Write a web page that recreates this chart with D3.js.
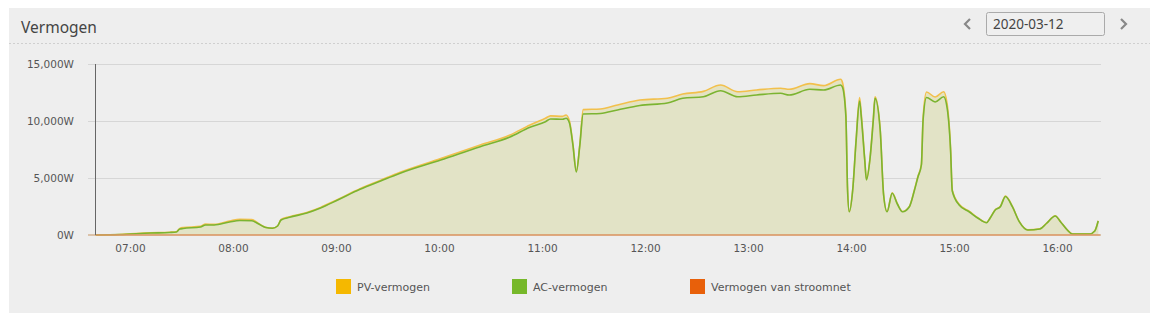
<!DOCTYPE html>
<html>
<head>
<meta charset="utf-8">
<script src="https://cdn.jsdelivr.net/npm/d3@7"></script>
<style>
  body { margin: 0; background: #fff; }
  svg { display: block; }
</style>
</head>
<body>
<svg id="chart" width="1158" height="317"></svg>
<script>
// tijdstippen (HH:MM) van de metingen
const times = ["06:40","06:54","07:12","07:23","07:27","07:29","07:31","07:41","07:44","07:49",
  "07:58","08:04","08:11","08:15","08:19","08:23","08:26","08:28","08:33","08:43",
  "08:51","09:01","09:14","09:26","09:37","10:01","10:24","10:41","10:53","11:02",
  "11:05","11:12","11:14","11:16","11:18","11:20","11:22","11:24","11:34","11:44",
  "11:57","12:13","12:22","12:34","12:44","12:54","13:05","13:19","13:24","13:36",
  "13:44","13:54","13:55","13:57","13:58","13:59","14:01","14:03","14:05","14:06",
  "14:08","14:09","14:11","14:13","14:14","14:17","14:19","14:21","14:24","14:27",
  "14:30","14:34","14:37","14:39","14:41","14:42","14:44","14:49","14:54","14:56",
  "14:58","14:59","15:03","15:09","15:14","15:19","15:21","15:24","15:27","15:30",
  "15:34","15:38","15:43","15:50","15:54","15:59","16:02","16:06","16:09","16:19",
  "16:22","16:24"];

// PV-vermogen (W)
const pvPower = [0,50,190,240,280,580,650,760,950,930,
  1220,1380,1350,1000,680,600,810,1360,1600,1980,
  2420,3120,4060,4800,5480,6700,7900,8750,9650,10240,
  10450,10410,10530,10000,8000,5600,7900,11000,11050,11400,
  11840,12000,12370,12600,13160,12570,12720,12870,12780,13280,
  13100,13660,13400,10600,4000,2060,4000,8450,12050,10600,
  6650,4870,6650,10250,12130,9300,3550,2060,3700,2750,
  2060,2500,4000,5150,6200,10300,12550,12100,12570,11500,
  7600,3950,2700,2070,1500,1100,1490,2220,2520,3420,
  2510,1190,450,540,1045,1690,1190,450,95,95,
  360,1250];

// AC-vermogen (W)
const acPower = [0,40,170,220,260,520,570,700,880,880,
  1140,1270,1250,960,660,590,790,1320,1550,1930,
  2370,3070,4010,4740,5400,6580,7750,8570,9450,9940,
  10180,10150,10240,9830,7900,5530,7810,10610,10660,10970,
  11360,11580,11990,12130,12660,12130,12280,12430,12280,12780,
  12720,13160,12980,10440,3950,2040,3950,8330,11750,10350,
  6580,4830,6580,10090,11990,9210,3510,2040,3660,2720,
  2040,2480,3950,5090,6140,10090,12060,11670,12130,11140,
  7460,3860,2630,2020,1470,1080,1470,2190,2480,3380,
  2480,1170,440,530,1030,1670,1170,440,90,90,
  350,1230];

// Vermogen van stroomnet (W)
const gridTimes = ["06:40","16:25"];
const gridPower = [0, 0];

const yTicks = [0, 5000, 10000, 15000];
const xTicks = ["07:00","08:00","09:00","10:00","11:00","12:00","13:00","14:00","15:00","16:00"];
const legendItems = ["PV-vermogen", "AC-vermogen", "Vermogen van stroomnet"];
const legendColors = ["#f5b800", "#76b82a", "#e8600a"];

const parseTime = d3.timeParse("%H:%M");

const svg = d3.select("#chart");
const font = "'DejaVu Sans', Verdana, sans-serif";

// paneel
svg.append("rect")
  .attr("x", 9).attr("y", 8)
  .attr("width", 1141).attr("height", 305)
  .attr("fill", "#eeeeee");

svg.append("text")
  .attr("x", 21).attr("y", 33)
  .attr("font-family", "'Noto Sans', 'Open Sans', sans-serif")
  .attr("font-size", 15.5)
  .attr("fill", "#444")
  .text("Vermogen");

svg.append("line")
  .attr("x1", 9).attr("x2", 1150)
  .attr("y1", 43.5).attr("y2", 43.5)
  .attr("stroke", "#cfcfcf")
  .attr("stroke-dasharray", "2,2");

// datum-kiezer
svg.append("rect")
  .attr("x", 986.5).attr("y", 12.5)
  .attr("width", 118).attr("height", 23)
  .attr("rx", 2)
  .attr("fill", "#efefef")
  .attr("stroke", "#aaa");

svg.append("text")
  .attr("x", 993).attr("y", 29)
  .attr("font-family", "'Noto Sans', 'Open Sans', sans-serif")
  .attr("font-size", 13.5)
  .attr("fill", "#444")
  .text("2020-03-12");

svg.append("path")
  .attr("d", "M970,19 L965,24 L970,29")
  .attr("fill", "none").attr("stroke", "#888").attr("stroke-width", 2.2);
svg.append("path")
  .attr("d", "M1121,19 L1126,24 L1121,29")
  .attr("fill", "none").attr("stroke", "#888").attr("stroke-width", 2.2);

// schalen: 07:00 -> 130, 16:00 -> 1057 (103 px per uur)
const x = d3.scaleTime()
  .domain([new Date(parseTime("07:00").getTime() - 35 / 103 * 3600000),
           new Date(parseTime("16:00").getTime() + 43 / 103 * 3600000)])
  .range([95, 1100]);

const y = d3.scaleLinear()
  .domain([0, 15000])
  .range([235, 64]);

// rasterlijnen
svg.append("g")
  .selectAll("line")
  .data(yTicks.filter(d => d > 0))
  .join("line")
  .attr("x1", 88).attr("x2", 1101)
  .attr("y1", d => Math.round(y(d)) + 0.5)
  .attr("y2", d => Math.round(y(d)) + 0.5)
  .attr("stroke", "#d6d6d6");

const pvData = times.map((t, i) => ({ t: parseTime(t), v: pvPower[i] }));
const acData = times.map((t, i) => ({ t: parseTime(t), v: acPower[i] }));
const gridData = gridTimes.map((t, i) => ({ t: parseTime(t), v: gridPower[i] }));

const area = d3.area()
  .x(d => x(d.t))
  .y0(y(0))
  .y1(d => y(d.v))
  .curve(d3.curveMonotoneX);

const line = d3.line()
  .x(d => x(d.t))
  .y(d => y(d.v))
  .curve(d3.curveMonotoneX);

svg.append("path")
  .datum(pvData)
  .attr("d", area)
  .attr("fill", "#e4e3c2");

svg.append("path")
  .datum(acData)
  .attr("d", area)
  .attr("fill", "#e2e3c6");

svg.append("path")
  .datum(pvData)
  .attr("d", line)
  .attr("fill", "none")
  .attr("stroke", "#f2c04c")
  .attr("stroke-width", 1.6);

svg.append("path")
  .datum(acData)
  .attr("d", line)
  .attr("fill", "none")
  .attr("stroke", "#7bb431")
  .attr("stroke-width", 1.6);

// nul-lijn / stroomnet
svg.append("line")
  .attr("x1", 88).attr("x2", 1101)
  .attr("y1", y(0)).attr("y2", y(0))
  .attr("stroke", "#d5b392")
  .attr("stroke-width", 1.5);

svg.append("path")
  .datum(gridData)
  .attr("d", line)
  .attr("fill", "none")
  .attr("stroke", "#e8600a")
  .attr("stroke-opacity", 0.35)
  .attr("stroke-width", 1.5);

// y-as
const yAxis = svg.append("g")
  .attr("transform", "translate(88,0)")
  .call(d3.axisLeft(y)
    .tickValues(yTicks)
    .tickSize(0)
    .tickPadding(14)
    .tickFormat(d => d3.format(",")(d) + "W"));
yAxis.select(".domain").remove();
yAxis.selectAll("text")
  .attr("font-family", font)
  .attr("font-size", 10.5)
  .attr("fill", "#555");

svg.append("line")
  .attr("x1", 95.5).attr("x2", 95.5)
  .attr("y1", 64).attr("y2", 235)
  .attr("stroke", "#666");

// x-as
const xAxis = svg.append("g")
  .attr("transform", "translate(0,235)")
  .call(d3.axisBottom(x)
    .tickValues(xTicks.map(parseTime))
    .tickSize(0)
    .tickPadding(10)
    .tickFormat(d3.timeFormat("%H:%M")));
xAxis.select(".domain").remove();
xAxis.selectAll("text")
  .attr("font-family", font)
  .attr("font-size", 10.5)
  .attr("fill", "#555");

// legenda
const legendX = [336, 512, 690];
const legend = svg.append("g")
  .selectAll("g")
  .data(legendItems)
  .join("g")
  .attr("transform", (d, i) => `translate(${legendX[i]},279)`);

legend.append("rect")
  .attr("width", 15).attr("height", 15)
  .attr("fill", (d, i) => legendColors[i]);

legend.append("text")
  .attr("x", 21).attr("y", 11.5)
  .attr("font-family", font)
  .attr("font-size", 11)
  .attr("fill", "#555")
  .text(d => d);
</script>
</body>
</html>
